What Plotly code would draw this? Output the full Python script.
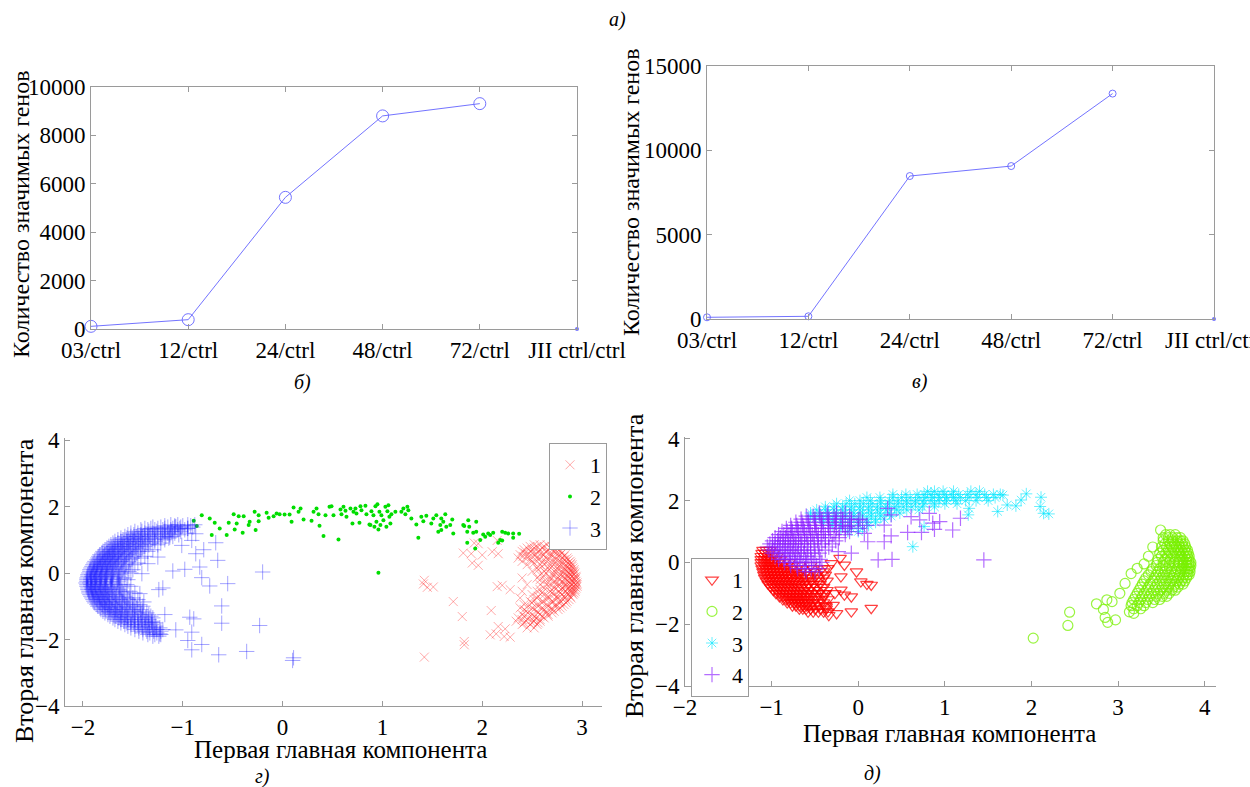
import plotly.graph_objects as go

FONT = "Liberation Serif, Times New Roman, serif"

# ---------------- top panels (line charts) ----------------
categories = ["03/ctrl", "12/ctrl", "24/ctrl", "48/ctrl", "72/ctrl", "JII ctrl/ctrl"]
genes_b = [110, 385, 5440, 8805, 9313]          # panel б, first five categories
genes_b_last = 0                                 # panel б, JII ctrl/ctrl
genes_v = [100, 160, 8476, 9068, 13365]          # panel в
genes_v_last = 0
y_ticks_b = [0, 2000, 4000, 6000, 8000, 10000]
y_ticks_v = [0, 5000, 10000, 15000]

# ---------------- panel г (PCA, 3 clusters) ----------------
g1_rows = [  # red x, cluster 1 (y, [x...])
    (0.85, [2.52, 2.58, 2.65]),
    (0.80, [2.48, 2.55, 2.62, 2.70]),
    (0.75, [2.45, 2.52, 2.60, 2.68, 2.74]),
    (0.70, [2.42, 2.50, 2.58, 2.66, 2.73, 2.77]),
    (0.65, [2.40, 2.48, 2.56, 2.64, 2.72, 2.78]),
    (0.60, [2.43, 2.51, 2.59, 2.67, 2.74, 2.80]),
    (0.55, [2.38, 2.46, 2.54, 2.62, 2.70, 2.78, 2.83]),
    (0.50, [2.41, 2.50, 2.59, 2.68, 2.76, 2.82]),
    (0.45, [2.36, 2.45, 2.55, 2.64, 2.72, 2.80, 2.85]),
    (0.40, [2.48, 2.57, 2.66, 2.75, 2.82, 2.86]),
    (0.35, [2.40, 2.50, 2.60, 2.70, 2.78, 2.84, 2.88]),
    (0.30, [2.52, 2.64, 2.73, 2.80, 2.86, 2.89]),
    (0.25, [2.45, 2.58, 2.68, 2.76, 2.83, 2.88, 2.90]),
    (0.20, [2.60, 2.70, 2.78, 2.85, 2.90]),
    (0.15, [2.55, 2.66, 2.75, 2.82, 2.87, 2.91]),
    (0.10, [2.56, 2.67, 2.76, 2.83, 2.88, 2.92]),
    (0.05, [2.50, 2.62, 2.72, 2.80, 2.85, 2.89, 2.92]),
    (0.00, [2.64, 2.74, 2.81, 2.87, 2.91, 2.93]),
    (-0.05, [2.58, 2.70, 2.78, 2.84, 2.88, 2.92]),
    (-0.10, [2.62, 2.72, 2.80, 2.86, 2.90, 2.94]),
    (-0.15, [2.40, 2.55, 2.68, 2.76, 2.83, 2.88, 2.92, 2.94]),
    (-0.20, [2.58, 2.68, 2.77, 2.84, 2.89, 2.93]),
    (-0.25, [2.62, 2.72, 2.80, 2.86, 2.90, 2.94]),
    (-0.30, [2.66, 2.75, 2.82, 2.88, 2.92, 2.95]),
    (-0.35, [2.45, 2.58, 2.70, 2.78, 2.84, 2.89, 2.93, 2.95]),
    (-0.40, [2.66, 2.76, 2.83, 2.88, 2.92, 2.95]),
    (-0.45, [2.62, 2.72, 2.80, 2.86, 2.90, 2.94]),
    (-0.50, [2.58, 2.70, 2.79, 2.85, 2.90, 2.93]),
    (-0.55, [2.40, 2.55, 2.68, 2.77, 2.84, 2.89, 2.93]),
    (-0.60, [2.60, 2.70, 2.78, 2.85, 2.90, 2.92]),
    (-0.65, [2.50, 2.62, 2.72, 2.80, 2.86, 2.91]),
    (-0.70, [2.56, 2.66, 2.75, 2.82, 2.88]),
    (-0.75, [2.38, 2.55, 2.67, 2.76, 2.83, 2.89]),
    (-0.80, [2.52, 2.64, 2.73, 2.81, 2.87]),
    (-0.85, [2.48, 2.60, 2.70, 2.78, 2.85]),
    (-0.90, [2.50, 2.60, 2.70, 2.78, 2.84]),
    (-0.95, [2.42, 2.55, 2.65, 2.74, 2.82]),
    (-1.00, [2.46, 2.56, 2.66, 2.74, 2.80]),
    (-1.05, [2.38, 2.50, 2.60, 2.70, 2.78]),
    (-1.10, [2.42, 2.52, 2.62, 2.70, 2.76]),
    (-1.15, [2.44, 2.55, 2.64, 2.72]),
    (-1.20, [2.46, 2.56, 2.64, 2.70]),
    (-1.25, [2.40, 2.50, 2.58, 2.66]),
    (-1.30, [2.42, 2.52, 2.60, 2.66]),
    (-1.35, [2.36, 2.46, 2.54, 2.62]),
    (-1.40, [2.40, 2.50, 2.58]),
    (-1.45, [2.34, 2.44, 2.52, 2.58]),
    (-1.50, [2.42, 2.50, 2.56]),
    (-1.55, [2.40, 2.48, 2.55]),
    (-1.65, [2.45, 2.52]),
]
g1_extra = [(1.81, 0.60), (1.90, 0.30), (2.00, 0.54), (2.10, 0.64), (1.92, 0.90),
            (2.15, -0.41), (2.28, -0.50), (1.71, -0.86), (1.80, -1.31), (2.09, -1.13),
            (2.16, -1.61), (2.08, -1.86), (2.22, -1.91), (1.82, -2.16), (1.82, -2.06),
            (1.41, -0.33), (1.45, -0.43), (1.42, -0.22), (1.51, -0.42), (1.42, -2.53),
            (2.15, 0.98), (2.20, -0.37), (2.14, -1.83), (2.23, -1.68), (2.28, -1.93),
            (1.96, 0.23), (1.89, 0.58), (1.96, 0.88), (2.16, 0.58)]

g2_points = [  # green dots, cluster 2 (x, y)
    (-0.89, 1.57), (-0.81, 1.74), (-0.86, 1.41), (-0.73, 1.64), (-0.68, 1.51), (-0.71, 1.14),
    (-0.63, 1.34), (-0.56, 1.14), (-0.54, 1.51), (-0.49, 1.77), (-0.44, 1.71), (-0.46, 1.49),
    (-0.48, 1.31), (-0.39, 1.71), (-0.40, 1.21), (-0.34, 1.44), (-0.33, 1.54), (-0.28, 1.84),
    (-0.24, 1.74), (-0.24, 1.56), (-0.27, 1.29), (-0.16, 1.81), (-0.14, 1.66), (-0.09, 1.71),
    (-0.06, 1.79), (-0.03, 1.77), (0.02, 1.76), (0.07, 1.76), (0.09, 1.54), (0.11, 1.97),
    (0.16, 1.84), (0.18, 1.94), (0.21, 1.61), (0.29, 1.57), (0.31, 1.84), (0.34, 1.94),
    (0.36, 1.77), (0.37, 1.42), (0.43, 1.74), (0.41, 1.11), (0.47, 1.99), (0.49, 2.01),
    (0.51, 1.74), (0.56, 1.01), (0.58, 1.91), (0.59, 1.77), (0.61, 1.99), (0.63, 1.87),
    (0.64, 1.69), (0.68, 1.94), (0.70, 1.49), (0.71, 1.84), (0.73, 1.94), (0.74, 1.79),
    (0.77, 1.51), (0.78, 2.01), (0.79, 1.89), (0.83, 2.02), (0.84, 1.77), (0.87, 1.46),
    (0.88, 1.44), (0.89, 1.86), (0.91, 1.74), (0.92, 1.39), (0.93, 2.01), (0.94, 1.54),
    (0.95, 2.07), (0.96, 1.31), (0.97, 1.84), (0.98, 1.44), (0.99, 1.74), (1.01, 1.59),
    (1.03, 1.99), (1.04, 1.39), (1.05, 1.86), (1.06, 2.04), (1.07, 1.69), (1.08, 1.49),
    (1.09, 1.77), (1.13, 1.84), (1.19, 1.84), (1.21, 1.94), (1.23, 1.77), (1.25, 1.99),
    (1.26, 1.89), (1.29, 1.64), (1.34, 1.46), (1.36, 1.06), (1.39, 1.69), (1.41, 1.56),
    (1.44, 1.72), (1.49, 1.49), (1.51, 1.64), (1.54, 1.74), (1.56, 1.24), (1.58, 1.44),
    (1.59, 1.29), (1.59, 1.64), (1.61, 1.54), (1.63, 1.77), (1.64, 1.39), (1.68, 1.44),
    (1.70, 1.61), (1.71, 1.19), (1.81, 1.44), (1.82, 1.41), (1.85, 1.24), (1.86, 1.59),
    (1.87, 1.39), (1.91, 1.21), (1.94, 1.54), (1.94, 1.24), (1.85, 0.91), (1.93, 0.74),
    (1.98, 0.99), (2.01, 1.16), (2.03, 1.09), (2.06, 1.19), (2.08, 1.14), (2.11, 1.21),
    (2.16, 0.91), (2.18, 0.99), (2.20, 1.24), (2.23, 1.21), (2.26, 1.19), (2.31, 1.19),
    (2.37, 1.18), (2.31, 1.06), (2.20, 0.98), (0.96, 0.01),
]

g3_rows = [  # blue +, cluster 3 (y, [x...])
    (1.45, [-1.12, -1.05, -0.95, -0.88]),
    (1.42, [-1.18, -1.08, -1.00, -0.92]),
    (1.38, [-1.30, -1.22, -1.15, -1.08, -1.02, -0.90]),
    (1.34, [-1.38, -1.32, -1.25, -1.18, -1.10, -1.03, -0.95]),
    (1.30, [-1.42, -1.35, -1.28, -1.20, -1.12, -1.05, -0.98]),
    (1.25, [-1.48, -1.41, -1.34, -1.26, -1.18, -1.11, -1.02]),
    (1.20, [-1.52, -1.45, -1.38, -1.30, -1.22, -1.15, -1.08, -0.95]),
    (1.15, [-1.55, -1.49, -1.42, -1.35, -1.28, -1.20, -1.13, -1.04]),
    (1.10, [-1.58, -1.52, -1.46, -1.40, -1.33, -1.25, -1.17, -1.10]),
    (1.05, [-1.62, -1.56, -1.50, -1.44, -1.38, -1.30, -1.22, -1.14]),
    (1.00, [-1.65, -1.60, -1.54, -1.48, -1.42, -1.35, -1.28, -1.18]),
    (0.95, [-1.68, -1.62, -1.56, -1.50, -1.44, -1.37, -1.28]),
    (0.90, [-1.70, -1.65, -1.59, -1.53, -1.47, -1.40, -1.32, -1.22]),
    (0.85, [-1.72, -1.67, -1.61, -1.55, -1.49, -1.42, -1.34, -1.25]),
    (0.80, [-1.74, -1.69, -1.63, -1.58, -1.52, -1.45, -1.38]),
    (0.75, [-1.76, -1.71, -1.65, -1.60, -1.54, -1.47, -1.40]),
    (0.70, [-1.78, -1.73, -1.68, -1.62, -1.56, -1.50, -1.42, -1.30]),
    (0.65, [-1.80, -1.75, -1.70, -1.64, -1.58, -1.52, -1.44, -1.35]),
    (0.60, [-1.81, -1.76, -1.71, -1.66, -1.60, -1.54, -1.46]),
    (0.55, [-1.83, -1.78, -1.73, -1.68, -1.62, -1.56, -1.48]),
    (0.50, [-1.84, -1.79, -1.74, -1.69, -1.64, -1.58, -1.50, -1.38]),
    (0.45, [-1.85, -1.80, -1.75, -1.70, -1.65, -1.59, -1.51, -1.42]),
    (0.40, [-1.86, -1.82, -1.77, -1.72, -1.67, -1.61, -1.53]),
    (0.35, [-1.88, -1.83, -1.78, -1.73, -1.68, -1.62, -1.54]),
    (0.30, [-1.89, -1.85, -1.80, -1.75, -1.70, -1.64, -1.56, -1.45]),
    (0.25, [-1.90, -1.86, -1.81, -1.76, -1.71, -1.65, -1.57, -1.48]),
    (0.20, [-1.91, -1.87, -1.82, -1.77, -1.72, -1.66, -1.58]),
    (0.15, [-1.92, -1.88, -1.83, -1.78, -1.73, -1.67, -1.59]),
    (0.10, [-1.93, -1.89, -1.84, -1.79, -1.74, -1.68, -1.60, -1.50]),
    (0.05, [-1.93, -1.89, -1.85, -1.80, -1.75, -1.69, -1.61, -1.54]),
    (0.00, [-1.94, -1.90, -1.86, -1.81, -1.76, -1.70, -1.62, -1.52]),
    (-0.05, [-1.95, -1.91, -1.86, -1.81, -1.76, -1.70, -1.63]),
    (-0.10, [-1.95, -1.91, -1.87, -1.82, -1.77, -1.71, -1.64]),
    (-0.15, [-1.96, -1.92, -1.87, -1.82, -1.77, -1.71, -1.64, -1.58]),
    (-0.20, [-1.96, -1.92, -1.88, -1.83, -1.78, -1.72, -1.65, -1.55]),
    (-0.25, [-1.96, -1.92, -1.88, -1.83, -1.78, -1.72, -1.65]),
    (-0.30, [-1.97, -1.93, -1.89, -1.84, -1.79, -1.73, -1.66]),
    (-0.35, [-1.96, -1.92, -1.87, -1.82, -1.77, -1.71, -1.63, -1.56]),
    (-0.40, [-1.96, -1.92, -1.88, -1.83, -1.78, -1.72, -1.64, -1.52]),
    (-0.45, [-1.95, -1.91, -1.86, -1.81, -1.76, -1.70, -1.62]),
    (-0.50, [-1.95, -1.91, -1.87, -1.82, -1.77, -1.71, -1.63]),
    (-0.55, [-1.94, -1.90, -1.85, -1.80, -1.75, -1.68, -1.61, -1.53]),
    (-0.60, [-1.94, -1.90, -1.85, -1.80, -1.75, -1.69, -1.60, -1.48]),
    (-0.65, [-1.93, -1.89, -1.84, -1.79, -1.74, -1.67, -1.59]),
    (-0.70, [-1.92, -1.88, -1.83, -1.78, -1.73, -1.66, -1.58]),
    (-0.75, [-1.91, -1.87, -1.82, -1.77, -1.71, -1.64, -1.56, -1.50]),
    (-0.80, [-1.90, -1.86, -1.81, -1.76, -1.70, -1.63, -1.55, -1.45]),
    (-0.85, [-1.89, -1.84, -1.79, -1.74, -1.68, -1.61, -1.53]),
    (-0.90, [-1.88, -1.83, -1.78, -1.73, -1.67, -1.60, -1.52]),
    (-0.95, [-1.86, -1.81, -1.76, -1.71, -1.65, -1.58, -1.50, -1.43]),
    (-1.00, [-1.85, -1.80, -1.75, -1.69, -1.63, -1.56, -1.48, -1.40]),
    (-1.05, [-1.83, -1.78, -1.73, -1.67, -1.61, -1.54, -1.46]),
    (-1.10, [-1.82, -1.77, -1.71, -1.65, -1.58, -1.50, -1.42]),
    (-1.15, [-1.80, -1.74, -1.68, -1.62, -1.56, -1.48, -1.40]),
    (-1.20, [-1.78, -1.72, -1.66, -1.60, -1.53, -1.45, -1.36]),
    (-1.25, [-1.75, -1.69, -1.63, -1.57, -1.50, -1.42, -1.34]),
    (-1.30, [-1.73, -1.67, -1.61, -1.55, -1.48, -1.40, -1.32]),
    (-1.35, [-1.70, -1.64, -1.58, -1.51, -1.44, -1.37, -1.30]),
    (-1.40, [-1.68, -1.62, -1.55, -1.48, -1.41, -1.34]),
    (-1.45, [-1.65, -1.59, -1.52, -1.45, -1.38, -1.31]),
    (-1.50, [-1.62, -1.56, -1.49, -1.42, -1.35, -1.28]),
    (-1.55, [-1.58, -1.52, -1.45, -1.38, -1.31]),
    (-1.60, [-1.55, -1.48, -1.41, -1.34, -1.27]),
    (-1.65, [-1.52, -1.44, -1.37, -1.30, -1.23]),
    (-1.70, [-1.48, -1.40, -1.33, -1.26, -1.20]),
    (-1.75, [-1.44, -1.36, -1.29, -1.22]),
    (-1.80, [-1.40, -1.33, -1.26]),
    (-1.85, [-1.35, -1.28, -1.22]),
    (-1.90, [-1.30, -1.24]),
]
g3_extra = [(-0.20, 0.03), (-0.23, -1.58), (-0.36, -2.36), (-0.64, -2.46), (0.11, -2.55),
            (0.10, -2.63), (-0.61, -1.51), (-0.61, -0.99), (-0.55, -0.32), (-0.73, -0.39),
            (-0.67, 0.91), (-0.65, 0.38), (-0.83, 0.18), (-0.98, 0.11), (-1.10, 0.06),
            (-0.79, 0.70), (-0.87, 0.58), (-0.81, -0.14), (-0.93, -1.33), (-0.89, -1.38),
            (-0.91, -1.78), (-0.95, -2.03), (-0.91, -2.31), (-0.81, -2.15), (-1.07, -1.71),
            (-1.20, -0.45), (-1.24, -0.50), (-1.18, -1.25), (-1.23, -1.83), (-1.31, -1.48),
            (-1.07, 1.39), (-0.95, 1.34), (-0.87, 1.18), (-0.91, 0.98), (-1.01, 0.83),
            (-1.13, 1.08), (-1.25, 0.48), (-1.35, 0.28), (-1.41, -0.02), (-1.43, -0.62),
            (-1.39, -0.87)]

# ---------------- panel д (PCA, 4 clusters) ----------------
d1_rows = [  # red triangles, cluster 1
    (0.40, [-1.10, -1.06, -1.02]),
    (0.30, [-1.11, -1.07, -1.03, -0.98]),
    (0.20, [-1.12, -1.08, -1.04, -0.99, -0.94]),
    (0.10, [-1.12, -1.08, -1.04, -1.00, -0.95, -0.90]),
    (0.00, [-1.12, -1.08, -1.04, -1.00, -0.96, -0.91, -0.86, -0.80]),
    (-0.10, [-1.12, -1.08, -1.04, -1.00, -0.96, -0.92, -0.87, -0.82, -0.76, -0.68, -0.55]),
    (-0.20, [-1.11, -1.07, -1.03, -0.99, -0.95, -0.91, -0.87, -0.82, -0.77, -0.72, -0.64, -0.52, -0.42]),
    (-0.30, [-1.10, -1.06, -1.02, -0.98, -0.94, -0.90, -0.86, -0.82, -0.77, -0.72, -0.67, -0.60, -0.50, -0.40]),
    (-0.40, [-1.09, -1.05, -1.01, -0.97, -0.93, -0.89, -0.85, -0.81, -0.77, -0.72, -0.67, -0.62, -0.56, -0.48, -0.38]),
    (-0.50, [-1.08, -1.04, -1.00, -0.96, -0.92, -0.88, -0.84, -0.80, -0.76, -0.71, -0.66, -0.61, -0.55, -0.47, -0.40]),
    (-0.60, [-1.06, -1.02, -0.98, -0.94, -0.90, -0.86, -0.82, -0.78, -0.74, -0.70, -0.65, -0.60, -0.54, -0.46, -0.36]),
    (-0.70, [-1.04, -1.00, -0.96, -0.92, -0.88, -0.84, -0.80, -0.76, -0.72, -0.68, -0.63, -0.58, -0.52, -0.44]),
    (-0.80, [-1.01, -0.97, -0.93, -0.89, -0.85, -0.81, -0.77, -0.73, -0.69, -0.65, -0.60, -0.55, -0.48, -0.40]),
    (-0.90, [-0.98, -0.94, -0.90, -0.86, -0.82, -0.78, -0.74, -0.70, -0.66, -0.62, -0.57, -0.51, -0.44, -0.36]),
    (-1.00, [-0.95, -0.91, -0.87, -0.83, -0.79, -0.75, -0.71, -0.67, -0.63, -0.58, -0.53, -0.46, -0.38]),
    (-1.10, [-0.91, -0.87, -0.83, -0.79, -0.75, -0.71, -0.67, -0.63, -0.59, -0.54, -0.48, -0.40]),
    (-1.20, [-0.87, -0.83, -0.79, -0.75, -0.71, -0.67, -0.63, -0.59, -0.54, -0.49, -0.42, -0.35]),
    (-1.30, [-0.82, -0.78, -0.74, -0.70, -0.66, -0.62, -0.58, -0.53, -0.47, -0.40]),
    (-1.40, [-0.76, -0.72, -0.68, -0.64, -0.60, -0.56, -0.51, -0.45, -0.38]),
    (-1.50, [-0.68, -0.64, -0.60, -0.55, -0.50, -0.44, -0.37]),
    (-1.60, [-0.58, -0.52, -0.46, -0.40]),
]
d1_extra = [(-0.16, -0.08), (-0.02, -0.30), (-0.20, -0.46), (0.03, -0.62), (0.15, -0.73),
            (0.10, -0.70), (-0.08, -1.11), (-0.16, -1.05), (-0.08, -1.59), (0.15, -1.48),
            (-0.25, -1.65), (-0.35, -1.59), (-0.37, -1.43), (-0.29, -1.38), (-0.41, -1.00),
            (-0.27, -1.00), (-0.20, -0.89), (-0.31, -0.03), (-0.35, -0.19), (-0.21, 0.14),
            (-0.34, -1.71)]

d2_rows = [  # green circles, cluster 2
    (0.90, [3.55, 3.60, 3.66]),
    (0.80, [3.52, 3.58, 3.63, 3.68, 3.72]),
    (0.70, [3.52, 3.58, 3.63, 3.68, 3.72, 3.75]),
    (0.60, [3.54, 3.60, 3.65, 3.70, 3.74, 3.77]),
    (0.50, [3.50, 3.56, 3.62, 3.67, 3.71, 3.75, 3.78]),
    (0.40, [3.52, 3.58, 3.64, 3.69, 3.73, 3.77, 3.80]),
    (0.30, [3.48, 3.55, 3.61, 3.66, 3.71, 3.75, 3.79, 3.81]),
    (0.20, [3.50, 3.57, 3.63, 3.68, 3.73, 3.77, 3.80, 3.82]),
    (0.10, [3.46, 3.54, 3.60, 3.66, 3.71, 3.75, 3.79, 3.82]),
    (0.00, [3.45, 3.52, 3.59, 3.65, 3.70, 3.75, 3.79, 3.82, 3.84]),
    (-0.10, [3.44, 3.52, 3.59, 3.65, 3.70, 3.75, 3.79, 3.82, 3.84]),
    (-0.20, [3.40, 3.48, 3.56, 3.62, 3.68, 3.73, 3.77, 3.81, 3.83]),
    (-0.30, [3.38, 3.46, 3.54, 3.61, 3.67, 3.72, 3.77, 3.80, 3.83]),
    (-0.40, [3.35, 3.44, 3.52, 3.59, 3.65, 3.71, 3.76, 3.80, 3.82]),
    (-0.50, [3.32, 3.42, 3.50, 3.57, 3.64, 3.70, 3.75, 3.79]),
    (-0.60, [3.30, 3.40, 3.48, 3.55, 3.62, 3.68, 3.73, 3.77]),
    (-0.70, [3.28, 3.37, 3.45, 3.53, 3.60, 3.66, 3.71, 3.75]),
    (-0.80, [3.26, 3.35, 3.43, 3.51, 3.58, 3.64, 3.69]),
    (-0.90, [3.24, 3.33, 3.41, 3.49, 3.56, 3.62, 3.66]),
    (-1.00, [3.22, 3.30, 3.38, 3.46, 3.53, 3.59]),
    (-1.10, [3.20, 3.28, 3.36, 3.44, 3.51, 3.56]),
    (-1.20, [3.18, 3.26, 3.34, 3.42, 3.48]),
    (-1.30, [3.16, 3.24, 3.32, 3.40]),
    (-1.40, [3.15, 3.22, 3.30]),
    (-1.50, [3.18, 3.26]),
]
d2_extra = [(2.02, -2.45), (2.42, -2.04), (2.44, -1.61), (2.75, -1.34), (2.85, -1.78),
            (2.88, -1.94), (2.87, -1.21), (2.83, -1.52), (2.93, -1.27), (2.97, -1.86),
            (3.02, -1.00), (3.08, -0.68), (3.15, -0.36), (3.22, -0.19), (3.13, -1.60),
            (3.18, -1.65), (3.49, 1.05), (3.40, 0.50), (3.35, 0.20), (3.30, -0.05)]

d3_rows = [  # cyan asterisks, cluster 3
    (2.30, [0.80, 0.88, 0.98, 1.10, 1.30, 1.40]),
    (2.20, [0.40, 0.55, 0.68, 0.76, 0.84, 0.92, 1.00, 1.08, 1.16, 1.26, 1.36, 1.46, 1.56, 1.64]),
    (2.10, [0.10, 0.25, 0.40, 0.50, 0.60, 0.70, 0.78, 0.86, 0.94, 1.02, 1.10, 1.18, 1.28, 1.38, 1.48, 1.58]),
    (2.00, [-0.10, 0.02, 0.14, 0.26, 0.36, 0.46, 0.56, 0.66, 0.75, 0.84, 0.93, 1.02, 1.12, 1.24, 1.36, 1.50]),
    (1.90, [-0.25, -0.14, -0.04, 0.06, 0.16, 0.26, 0.36, 0.46, 0.56, 0.66, 0.76, 0.88, 1.00, 1.14]),
    (1.80, [-0.38, -0.28, -0.18, -0.08, 0.02, 0.12, 0.22, 0.32, 0.42, 0.52, 0.62, 0.74, 0.88]),
    (1.70, [-0.48, -0.38, -0.28, -0.18, -0.08, 0.02, 0.12, 0.22, 0.32, 0.44, 0.56, 0.70]),
    (1.60, [-0.55, -0.45, -0.35, -0.25, -0.15, -0.05, 0.05, 0.15, 0.25, 0.36, 0.48]),
    (1.50, [-0.55, -0.45, -0.35, -0.25, -0.15, -0.05, 0.05, 0.15, 0.26, 0.38]),
    (1.40, [-0.50, -0.40, -0.30, -0.20, -0.10, 0.00, 0.10, 0.20, 0.30]),
    (1.30, [-0.40, -0.30, -0.20, -0.10, 0.00, 0.10, 0.20]),
    (1.20, [-0.30, -0.20, -0.10, 0.00, 0.12]),
    (1.10, [-0.20, -0.08, 0.05]),
    (1.00, [-0.12, 0.00]),
]
d3_extra = [(1.61, 1.65), (1.72, 1.86), (1.82, 1.83), (1.88, 2.02), (1.94, 2.22), (2.11, 2.11),
            (2.10, 1.81), (2.14, 1.59), (2.20, 1.57), (0.63, 0.51), (1.27, 1.54), (1.28, 1.75),
            (1.67, 2.18), (0.76, 1.16)]

d4_rows = [  # purple +, cluster 4
    (1.60, [-0.45, -0.35, -0.25, -0.15]),
    (1.50, [-0.60, -0.52, -0.44, -0.36, -0.28, -0.20, -0.10]),
    (1.40, [-0.66, -0.58, -0.50, -0.42, -0.34, -0.26, -0.18, -0.08, 0.02]),
    (1.30, [-0.72, -0.65, -0.58, -0.50, -0.42, -0.34, -0.26, -0.18, -0.08, 0.05]),
    (1.20, [-0.78, -0.71, -0.64, -0.57, -0.50, -0.43, -0.35, -0.27, -0.18, -0.08, 0.10]),
    (1.10, [-0.83, -0.77, -0.70, -0.63, -0.56, -0.49, -0.42, -0.34, -0.25, -0.15, 0.00]),
    (1.00, [-0.88, -0.82, -0.76, -0.69, -0.62, -0.55, -0.48, -0.40, -0.32, -0.22, -0.10]),
    (0.90, [-0.92, -0.86, -0.80, -0.74, -0.67, -0.60, -0.53, -0.46, -0.38, -0.28, -0.15]),
    (0.80, [-0.96, -0.90, -0.84, -0.78, -0.72, -0.65, -0.58, -0.51, -0.43, -0.34, -0.22]),
    (0.70, [-0.99, -0.93, -0.87, -0.81, -0.75, -0.69, -0.62, -0.55, -0.47, -0.38, -0.26]),
    (0.60, [-1.02, -0.96, -0.90, -0.84, -0.78, -0.72, -0.66, -0.59, -0.51, -0.42, -0.30]),
    (0.50, [-1.05, -0.99, -0.93, -0.87, -0.81, -0.75, -0.69, -0.62, -0.55, -0.46, -0.34]),
    (0.40, [-1.03, -0.97, -0.91, -0.85, -0.79, -0.73, -0.66, -0.58, -0.50, -0.38]),
    (0.30, [-1.00, -0.94, -0.88, -0.82, -0.76, -0.70, -0.63, -0.55, -0.45]),
    (0.20, [-0.96, -0.90, -0.84, -0.78, -0.72, -0.66, -0.59, -0.50]),
    (0.10, [-0.92, -0.86, -0.80, -0.74, -0.68, -0.61, -0.54, -0.44]),
    (0.00, [-0.85, -0.79, -0.73, -0.67, -0.60, -0.52, -0.42]),
    (-0.10, [-0.78, -0.71, -0.64, -0.57, -0.48]),
    (-0.20, [-0.70, -0.62, -0.54, -0.45]),
    (-0.30, [-0.60, -0.50]),
]
d4_extra = [(0.34, 1.75), (0.38, 1.54), (0.61, 1.48), (0.71, 1.38), (0.82, 1.59), (0.86, 1.27),
            (0.94, 1.32), (0.88, 1.07), (0.73, 0.97), (0.57, 0.97), (1.09, 1.05), (1.18, 1.43),
            (0.38, 0.86), (0.30, 0.67), (0.23, 0.08), (0.39, 0.10), (1.45, 0.08), (0.30, 1.21),
            (0.11, 0.67), (-0.08, 0.30), (-0.23, 0.35), (0.07, 0.94), (-0.12, 1.16), (0.00, 1.38)]

axis_title_x = "Первая главная компонента"
axis_title_y = "Вторая главная компонента"
axis_title_genes = "Количество значимых генов"
panel_labels = ["а)", "б)", "в)", "г)", "д)"]


def flatten(rows=(), extra=()):
    xs, ys = [], []
    for yv, xlist in rows:
        for xv in xlist:
            xs.append(xv)
            ys.append(yv)
    for xv, yv in extra:
        xs.append(xv)
        ys.append(yv)
    return xs, ys


W, H = 1250, 787


def dom_x(a, b):
    return [a / W, b / W]


def dom_y(top, bottom):
    return [1 - bottom / H, 1 - top / H]


fig = go.Figure()

LINE_COL = "rgba(100,100,255,0.9)"
idx = list(range(len(categories)))

# б
fig.add_trace(go.Scatter(x=idx[:5], y=genes_b, mode="lines+markers", xaxis="x", yaxis="y",
                         line=dict(color=LINE_COL, width=1),
                         marker=dict(symbol="circle-open", size=12, color=LINE_COL, line=dict(width=1)),
                         showlegend=False, cliponaxis=False))
fig.add_trace(go.Scatter(x=[idx[5]], y=[genes_b_last], mode="markers", xaxis="x", yaxis="y",
                         marker=dict(symbol="circle", size=4, color=LINE_COL),
                         showlegend=False, cliponaxis=False))
# в
fig.add_trace(go.Scatter(x=idx[:5], y=genes_v, mode="lines+markers", xaxis="x2", yaxis="y2",
                         line=dict(color=LINE_COL, width=1),
                         marker=dict(symbol="circle-open", size=7, color=LINE_COL, line=dict(width=1)),
                         showlegend=False, cliponaxis=False))
fig.add_trace(go.Scatter(x=[idx[5]], y=[genes_v_last], mode="markers", xaxis="x2", yaxis="y2",
                         marker=dict(symbol="circle", size=4, color=LINE_COL),
                         showlegend=False, cliponaxis=False))

# г
x, y = flatten(g1_rows, g1_extra)
fig.add_trace(go.Scatter(x=x, y=y, mode="markers", name="1", xaxis="x3", yaxis="y3", legend="legend",
                         marker=dict(symbol="x-thin-open", size=9, color="rgba(255,40,40,0.4)",
                                     line=dict(width=1, color="rgba(255,40,40,0.4)"))))
x, y = flatten((), g2_points)
fig.add_trace(go.Scatter(x=x, y=y, mode="markers", name="2", xaxis="x3", yaxis="y3", legend="legend",
                         marker=dict(symbol="circle", size=4, color="#00dd00")))
x, y = flatten(g3_rows, g3_extra)
fig.add_trace(go.Scatter(x=x, y=y, mode="markers", name="3", xaxis="x3", yaxis="y3", legend="legend",
                         marker=dict(symbol="cross-thin-open", size=11, color="rgba(30,30,255,0.4)",
                                     line=dict(width=1, color="rgba(30,30,255,0.4)"))))

# д
x, y = flatten(d1_rows, d1_extra)
fig.add_trace(go.Scatter(x=x, y=y, mode="markers", name="1", xaxis="x4", yaxis="y4", legend="legend2",
                         marker=dict(symbol="triangle-down-open", size=11, color="rgba(255,0,0,0.75)",
                                     line=dict(width=1.2, color="rgba(255,0,0,0.75)"))))
x, y = flatten(d2_rows, d2_extra)
fig.add_trace(go.Scatter(x=x, y=y, mode="markers", name="2", xaxis="x4", yaxis="y4", legend="legend2",
                         marker=dict(symbol="circle-open", size=10, color="rgba(120,240,0,0.75)",
                                     line=dict(width=1.2, color="rgba(120,240,0,0.75)"))))
x, y = flatten(d3_rows, d3_extra)
fig.add_trace(go.Scatter(x=x, y=y, mode="markers", name="3", xaxis="x4", yaxis="y4", legend="legend2",
                         marker=dict(symbol="asterisk-open", size=10, color="rgba(0,230,255,0.6)",
                                     line=dict(width=1, color="rgba(0,230,255,0.6)"))))
x, y = flatten(d4_rows, d4_extra)
fig.add_trace(go.Scatter(x=x, y=y, mode="markers", name="4", xaxis="x4", yaxis="y4", legend="legend2",
                         marker=dict(symbol="cross-thin-open", size=11, color="rgba(140,30,255,0.65)",
                                     line=dict(width=1.2, color="rgba(140,30,255,0.65)"))))

AX_COL = "#9a9a9a"
TICK_SIZE = 23
tickfont = dict(family=FONT, size=TICK_SIZE, color="black")

common_top = dict(showline=True, linecolor=AX_COL, linewidth=1, mirror="ticks", ticks="inside",
                  tickcolor=AX_COL, ticklen=5, showgrid=False, zeroline=False, tickfont=tickfont,
                  tickformat="d", automargin=False)
common_bot = dict(showline=True, linecolor=AX_COL, linewidth=1, mirror=False, ticks="inside",
                  tickcolor=AX_COL, ticklen=5, showgrid=False, zeroline=False, tickfont=tickfont,
                  automargin=False)

fig.update_layout(
    width=W, height=H, margin=dict(l=0, r=0, t=0, b=0, autoexpand=False),
    paper_bgcolor="white", plot_bgcolor="white",
    font=dict(family=FONT, color="black"),
    xaxis=dict(domain=dom_x(91, 577), anchor="y", range=[0, 5], tickvals=idx, ticktext=categories, **common_top),
    yaxis=dict(domain=dom_y(87, 329), anchor="x", range=[0, 10000], tickvals=y_ticks_b, **common_top),
    # the last category label of в overflows the page edge; it is drawn below as a text that may be cut
    xaxis2=dict(domain=dom_x(707, 1214), anchor="y2", range=[0, 5], tickvals=idx, ticktext=categories[:5] + [""],
                **common_top),
    yaxis2=dict(domain=dom_y(66, 319), anchor="x2", range=[0, 15000], tickvals=y_ticks_v, **common_top),
    xaxis3=dict(domain=dom_x(65, 602), anchor="y3", range=[-2.18, 3.2], tickvals=[-2, -1, 0, 1, 2, 3], **common_bot),
    yaxis3=dict(domain=dom_y(438, 706), anchor="x3", range=[-4, 4.06], tickvals=[-4, -2, 0, 2, 4], **common_bot),
    xaxis4=dict(domain=dom_x(685, 1216), anchor="y4", range=[-2, 4.13], tickvals=[-2, -1, 0, 1, 2, 3, 4], **common_bot),
    yaxis4=dict(domain=dom_y(437, 686), anchor="x4", range=[-4, 4.06], tickvals=[-4, -2, 0, 2, 4], **common_bot),
    legend=dict(x=549 / W, y=1 - 443 / H, xanchor="left", yanchor="top", bgcolor="white",
                bordercolor=AX_COL, borderwidth=1, font=dict(family=FONT, size=22),
                itemwidth=30, tracegroupgap=0),
    legend2=dict(x=691 / W, y=1 - 558 / H, xanchor="left", yanchor="top", bgcolor="white",
                 bordercolor=AX_COL, borderwidth=1, font=dict(family=FONT, size=22),
                 itemwidth=30, tracegroupgap=0),
)

ann = []


def add_text(text, px, py, size, angle=0, italic=False):
    ann.append(dict(text=text, x=px / W, y=1 - py / H, xref="paper", yref="paper",
                    showarrow=False, textangle=angle, xanchor="center", yanchor="middle",
                    font=dict(family=FONT, size=size, color="black",
                              style="italic" if italic else "normal")))


add_text(panel_labels[0], 617, 20, 20, italic=True)
add_text(panel_labels[1], 302, 383, 20, italic=True)
add_text(panel_labels[2], 920, 381, 20, italic=True)
add_text(panel_labels[3], 262, 776, 20, italic=True)
add_text(panel_labels[4], 872, 773, 20, italic=True)
add_text(axis_title_genes, 21, 214, 24, angle=-90)
add_text(axis_title_genes, 631, 192, 24, angle=-90)
add_text(axis_title_y, 24, 591, 26, angle=-90)
add_text(axis_title_y, 634, 566, 26, angle=-90)
add_text(axis_title_x, 340, 749, 25)
add_text(axis_title_x, 949, 733, 25)

# last category label of panel в, centred on its category position
ann.append(dict(text=categories[5], x=idx[5], xref="x2", y=1 - 340 / H, yref="paper",
                showarrow=False, xanchor="center", yanchor="middle",
                font=dict(family=FONT, size=TICK_SIZE, color="black")))
fig.update_layout(annotations=ann)

fig.write_html("out.html", config={"displayModeBar": False},
               post_script="document.body.style.margin='0';")
